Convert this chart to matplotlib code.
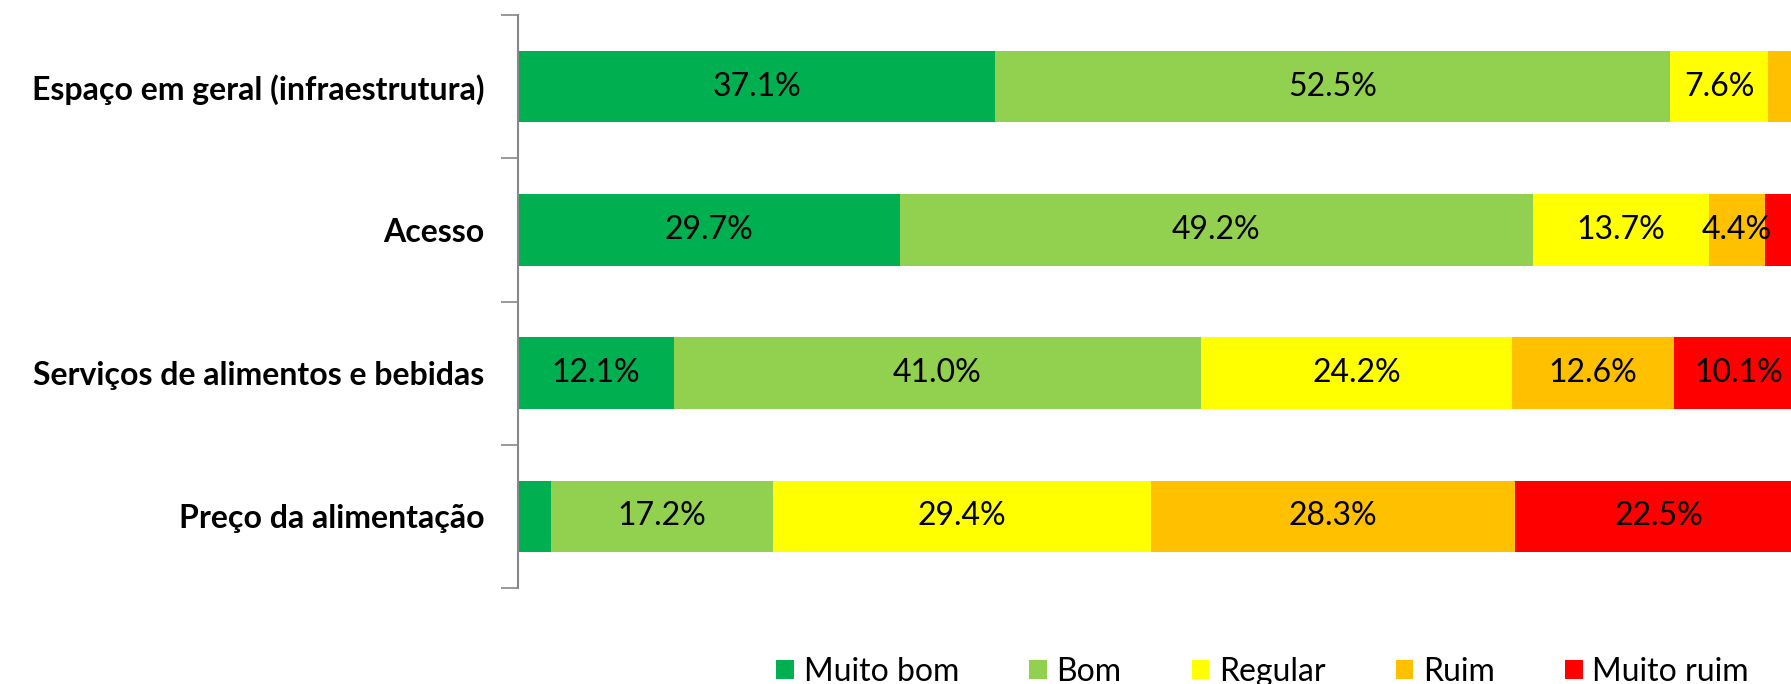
import numpy as np
import matplotlib.pyplot as plt
from matplotlib.patches import Patch

plt.rcParams['font.family'] = ['Lato', 'DejaVu Sans']

# -------------------------
#          Data
# -------------------------
categories = ["Espaço em geral (infraestrutura)", "Acesso",
              "Serviços de alimentos e bebidas", "Preço da alimentação"]
series = ["Muito bom", "Bom", "Regular", "Ruim", "Muito ruim"]
colors = ["#00B050", "#92D050", "#FFFF00", "#FFC000", "#FF0000"]

muito_bom = [37.1, 29.7, 12.1, 2.6]
bom = [52.5, 49.2, 41.0, 17.2]
regular = [7.6, 13.7, 24.2, 29.4]
ruim = [2.3, 4.4, 12.6, 28.3]
muito_ruim = [0.5, 3.0, 10.1, 22.5]

values = [muito_bom, bom, regular, ruim, muito_ruim]

# -------------------------
#          Plot
# -------------------------
fig = plt.figure(figsize=(17.91, 6.84), dpi=100)
ax = fig.add_axes([518 / 1791, 1 - 588 / 684, 1286 / 1791, (588 - 15) / 684])

y = np.arange(len(categories))
left = np.zeros(len(categories))
for vals, name, col in zip(values, series, colors):
    vals = np.array(vals)
    ax.barh(y, vals, left=left, height=0.5, color=col, label=name)
    for yi, v, l in zip(y, vals, left):
        if v >= 4:
            ax.text(l + v / 2, yi, f"{v:.1f}%", ha='center', va='center',
                    fontsize=23, color='black')
    left += vals

ax.set_xlim(0, 100)
ax.set_ylim(len(categories) - 0.5, -0.5)
ax.set_yticks(y)
ax.set_yticklabels(categories, fontsize=23, fontweight='bold')
ax.set_yticks(np.arange(len(categories) + 1) - 0.5, minor=True)
ax.tick_params(axis='y', which='major', length=0, pad=24)
ax.tick_params(axis='y', which='minor', length=12, color='#888888', width=1.2)
ax.set_xticks([])
for s in ['top', 'right', 'bottom']:
    ax.spines[s].set_visible(False)
ax.spines['left'].set_color('#888888')
ax.spines['left'].set_linewidth(1.5)

handles = [Patch(facecolor=c, label=n) for n, c in zip(series, colors)]
fig.legend(handles=handles, loc='center', bbox_to_anchor=(0.705, 0.018),
           ncol=5, frameon=False, fontsize=23, handlelength=0.55,
           handleheight=0.55, handletextpad=0.3, columnspacing=2.2,
           borderpad=0)

fig.savefig("out.png", dpi=100)
